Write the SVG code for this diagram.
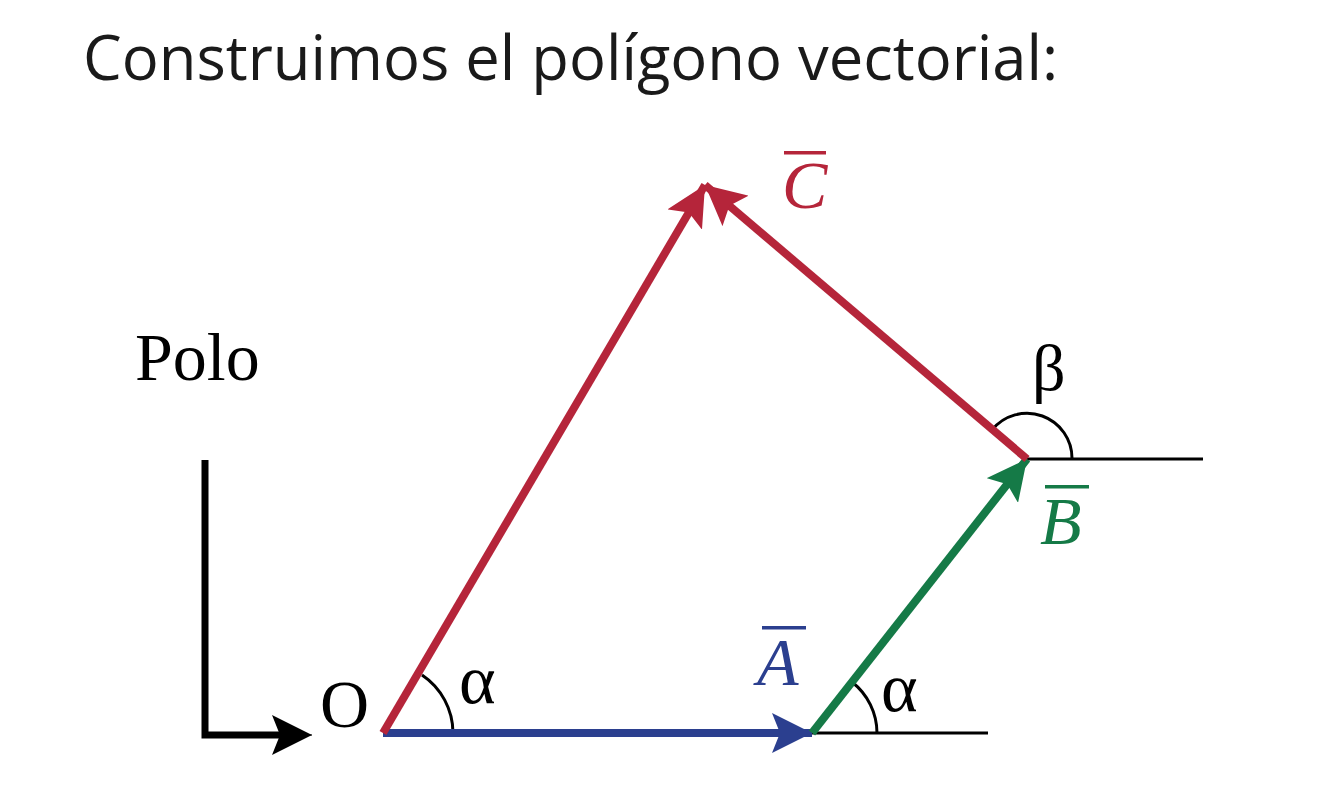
<svg xmlns="http://www.w3.org/2000/svg" width="1319" height="800" viewBox="0 0 1319 800">
<defs>
<style>
.title{font-family:"Open Sans","Liberation Sans",sans-serif;font-size:61.5px;fill:#1a1a1a}
.serif{font-family:"Liberation Serif","DejaVu Serif",serif;fill:#000}
.vec{font-family:"Liberation Serif","DejaVu Serif",serif;font-style:italic;font-size:68px}
.thin{stroke:#000;stroke-width:3;fill:none}
</style>
<marker id="hr" viewBox="0 0 40 40" refX="40" refY="20" markerWidth="40" markerHeight="40" markerUnits="userSpaceOnUse" orient="auto"><path d="M0,0 L40,20 L0,40 L8,20 Z" fill="#b5253a"/></marker>
<marker id="hb" viewBox="0 0 40 40" refX="40" refY="20" markerWidth="40" markerHeight="40" markerUnits="userSpaceOnUse" orient="auto"><path d="M0,0 L40,20 L0,40 L8,20 Z" fill="#2b3f8f"/></marker>
<marker id="hg" viewBox="0 0 40 40" refX="40" refY="20" markerWidth="40" markerHeight="40" markerUnits="userSpaceOnUse" orient="auto"><path d="M0,0 L40,20 L0,40 L8,20 Z" fill="#157a47"/></marker>
<marker id="hk" viewBox="0 0 40 40" refX="40" refY="20" markerWidth="40" markerHeight="40" markerUnits="userSpaceOnUse" orient="auto"><path d="M0,0 L40,20 L0,40 L8,20 Z" fill="#000"/></marker>
</defs>
<rect width="1319" height="800" fill="#fff"/>
<text class="title" x="83" y="80">Construimos el polígono vectorial:</text>
<g id="polo">
<text class="serif" x="135" y="380" font-size="68">Polo</text>
<path d="M205,460 L205,735 L300,735" stroke="#000" stroke-width="7" fill="none"/>
<line x1="290" y1="735" x2="312" y2="735" stroke="#000" stroke-width="1" marker-end="url(#hk)"/>
</g>
<g id="origin"><text class="serif" x="320" y="727" font-size="68">O</text></g>
<g id="guides">
<line class="thin" x1="812" y1="733" x2="988" y2="733"/>
<line class="thin" x1="1027" y1="459" x2="1203" y2="459"/>
<path class="thin" d="M453,733 A70,70 0 0 0 422,675"/>
<path class="thin" d="M877,733 A65,65 0 0 0 852,682"/>
<path class="thin" d="M1072,459 A45,45 0 0 0 992,430"/>
</g>
<g id="connectors">
<line x1="383" y1="733" x2="812" y2="733" stroke="#2b3f8f" stroke-width="8" marker-end="url(#hb)"/>
<line x1="812" y1="733" x2="1027" y2="459" stroke="#157a47" stroke-width="8" marker-end="url(#hg)"/>
<line x1="383" y1="733" x2="705" y2="185" stroke="#b5253a" stroke-width="8" marker-end="url(#hr)"/>
<line x1="1027" y1="459" x2="705" y2="185" stroke="#b5253a" stroke-width="8" marker-end="url(#hr)"/>
</g>
<g id="labels">
<text class="serif" x="459" y="703" font-size="70">α</text>
<text class="serif" x="881" y="711" font-size="70">α</text>
<text class="serif" x="1032" y="390" font-size="66">β</text>
<g id="labelA" fill="#2b3f8f"><text class="vec" x="757" y="685">A</text><rect x="762" y="626" width="44" height="3.5"/></g>
<g id="labelB" fill="#157a47"><text class="vec" x="1040" y="544">B</text><rect x="1045" y="485" width="44" height="3.5"/></g>
<g id="labelC" fill="#b5253a"><text class="vec" x="782" y="208">C</text><rect x="784" y="151" width="42" height="3.5"/></g>
</g>
</svg>
